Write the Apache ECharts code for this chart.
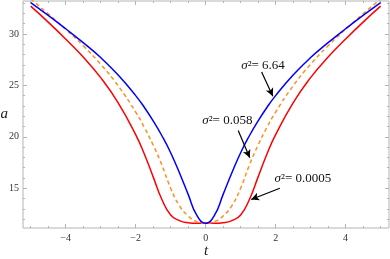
<!DOCTYPE html>
<html>
<head>
<meta charset="utf-8">
<script src="https://cdn.jsdelivr.net/npm/echarts@6/dist/echarts.min.js"></script>
<style>
  html, body { margin: 0; padding: 0; background: #fff; }
  #chart { width: 390px; height: 259px; }
</style>
</head>
<body>
<div id="chart"></div>
<script>
// t samples and a(t) for the three sigma^2 values
var tVals = [-5, -4.5, -4, -3.5, -3, -2.5, -2, -1.75, -1.5, -1.25, -1, -0.75, -0.5, -0.25, 0,
             0.25, 0.5, 0.75, 1, 1.25, 1.5, 1.75, 2, 2.5, 3, 3.5, 4, 4.5, 5];
var aSigma664 = [33.05, 31.8, 30.5, 29.15, 27.7, 26.0, 24.0, 22.85, 21.55, 20.1, 18.45, 16.5, 14.4, 12.35, 11.6,
                 12.35, 14.4, 16.5, 18.45, 20.1, 21.55, 22.85, 24.0, 26.0, 27.7, 29.15, 30.5, 31.8, 33.05];
var aSigma0058 = [33.4, 31.95, 30.45, 28.85, 27.05, 24.95, 22.4, 20.9, 19.2, 17.25, 15.0, 13.3, 12.3, 11.75, 11.6,
                  11.75, 12.3, 13.3, 15.0, 17.25, 19.2, 20.9, 22.4, 24.95, 27.05, 28.85, 30.45, 31.95, 33.4];
var aSigma00005 = [32.7, 31.15, 29.5, 27.75, 25.75, 23.3, 20.2, 18.3, 16.1, 13.9, 12.4, 11.85, 11.65, 11.6, 11.6,
                   11.6, 11.65, 11.85, 12.4, 13.9, 16.1, 18.3, 20.2, 23.3, 25.75, 27.75, 29.5, 31.15, 32.7];

// tick positions / labels
var xMajor = [-4, -2, 0, 2, 4];
var xMinor = [-5, -4.5, -3.5, -3, -2.5, -1.5, -1, -0.5, 0.5, 1, 1.5, 2.5, 3, 3.5, 4.5, 5];
var yMajor = [15, 20, 25, 30];
var yMinor = [12, 13, 14, 16, 17, 18, 19, 21, 22, 23, 24, 26, 27, 28, 29, 31, 32, 33];

// annotations: label, label centre [t, a], arrow tail, arrow head
var annLabels = ['6.64', '0.058', '0.0005'];
var annText = [[1.64, 26.88], [0.62, 21.56], [2.78, 15.92]];
var annTail = [[1.6, 26.3], [0.93, 20.6], [2.12, 15.0]];
var annHead = [[1.92, 23.95], [1.26, 17.95], [1.3, 13.9]];

var X_MIN = -5.22, X_MAX = 5.24, Y_MIN = 11.13, Y_MAX = 33.2;
var frameColor = '#b4b4b4';
var serif = '"Liberation Serif", "DejaVu Serif", serif';

function pairs(ys) {
    var out = [];
    for (var i = 0; i < tVals.length; i++) out.push([tVals[i], ys[i]]);
    return out;
}
function minusFmt(v) {
    return v < 0 ? '\u2212' + (-v) : String(v);
}

function tickAxis(kind, position, values, len, labels) {
    var ax = {
        type: 'value',
        position: position,
        min: kind === 'x' ? X_MIN : Y_MIN,
        max: kind === 'x' ? X_MAX : Y_MAX,
        axisLine: { show: false, onZero: false },
        splitLine: { show: false },
        axisTick: {
            show: true, inside: true, length: len, customValues: values,
            lineStyle: { color: frameColor, width: 1 }
        },
        axisLabel: { show: false }
    };
    if (labels) {
        ax.axisLabel = {
            show: true, customValues: values, formatter: minusFmt,
            color: '#333', fontFamily: serif, fontSize: 10, margin: kind === 'x' ? 5 : 4
        };
    }
    return ax;
}

var xAxes = [
    tickAxis('x', 'bottom', xMajor, 4, true),
    tickAxis('x', 'bottom', xMinor, 2, false),
    tickAxis('x', 'top', xMajor, 4, false),
    tickAxis('x', 'top', xMinor, 2, false)
];
xAxes[0].name = 't';
xAxes[0].nameLocation = 'middle';
xAxes[0].nameGap = 16;
xAxes[0].nameMoveOverlap = false;
xAxes[0].nameTextStyle = { fontFamily: serif, fontStyle: 'italic', fontSize: 15, color: '#222' };

var yAxes = [
    tickAxis('y', 'left', yMajor, 4, true),
    tickAxis('y', 'left', yMinor, 2, false),
    tickAxis('y', 'right', yMajor, 4, false),
    tickAxis('y', 'right', yMinor, 2, false)
];
yAxes[0].name = 'a';
yAxes[0].nameLocation = 'middle';
yAxes[0].nameRotate = 0;
yAxes[0].nameGap = 15;
yAxes[0].nameMoveOverlap = false;
yAxes[0].nameTextStyle = { fontFamily: serif, fontStyle: 'italic', fontSize: 15, color: '#222' };

var arrowLines = [];
for (var i = 0; i < annTail.length; i++) {
    arrowLines.push([{ coord: annTail[i] }, { coord: annHead[i] }]);
}

var myChart = echarts.init(document.getElementById('chart'));
myChart.setOption({
    animation: false,
    grid: {
        left: 23, right: 1, top: 1, bottom: 31,
        outerBoundsMode: 'none', containLabel: false,
        show: true, borderColor: frameColor, borderWidth: 1, backgroundColor: 'transparent'
    },
    xAxis: xAxes,
    yAxis: yAxes,
    series: [
        {
            name: 'sigma2_00005', type: 'line', data: pairs(aSigma00005),
            smooth: 0.5, showSymbol: false, clip: true,
            lineStyle: { color: '#ff0000', width: 1.5 }
        },
        {
            name: 'sigma2_0058', type: 'line', data: pairs(aSigma0058),
            smooth: 0.5, showSymbol: false, clip: true,
            lineStyle: { color: '#ff9020', width: 1.5, type: [4, 3] }
        },
        {
            name: 'sigma2_664', type: 'line', data: pairs(aSigma664),
            smooth: 0.5, showSymbol: false, clip: true,
            lineStyle: { color: '#0000ff', width: 1.5 },
            markLine: {
                silent: true, animation: false,
                symbol: ['none', 'arrow'], symbolSize: [6, 8],
                label: { show: false },
                lineStyle: { color: '#000', width: 1.2, type: 'solid' },
                data: arrowLines
            }
        }
    ]
});

// annotation texts placed through the chart's own scales
var texts = [];
for (var j = 0; j < annLabels.length; j++) {
    var p = myChart.convertToPixel({ xAxisIndex: 0, yAxisIndex: 0 }, annText[j]);
    texts.push({
        type: 'text', x: p[0], y: p[1], silent: true,
        style: {
            text: '{s|\u03c3}\u00b2= ' + annLabels[j],
            align: 'center', verticalAlign: 'middle',
            font: '13px ' + serif, fill: '#111',
            rich: { s: { fontStyle: 'italic', fontFamily: serif, fontSize: 13 } }
        }
    });
}
myChart.setOption({ graphic: texts });
</script>
</body>
</html>
